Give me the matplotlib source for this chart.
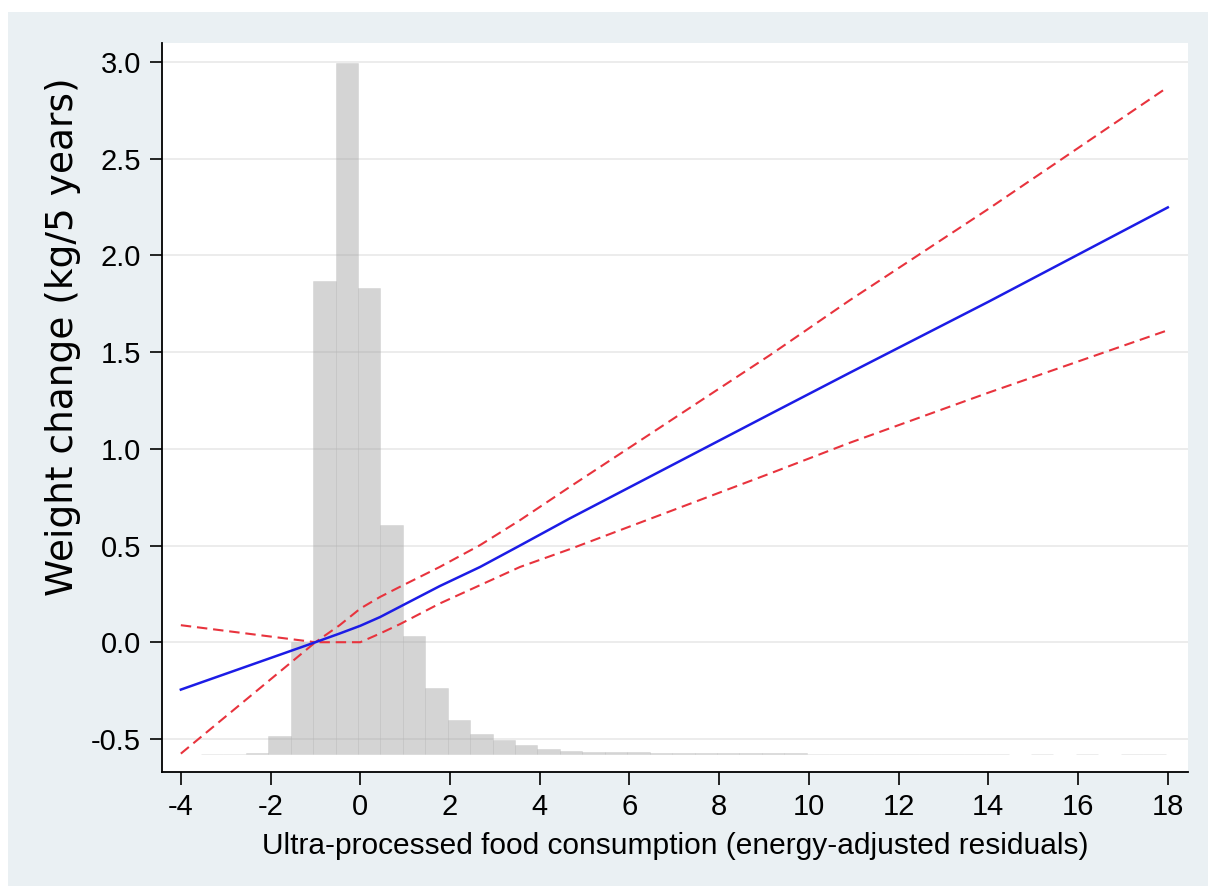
import matplotlib.pyplot as plt
import numpy as np
from matplotlib.patches import Rectangle

plt.rcParams['font.family'] = ['Liberation Sans', 'DejaVu Sans']

# fitted line and 95% CI
fit_x = [-4, -1, -0.46, 0, 0.44, 0.88, 1.77, 2.67, 3.56, 4.67, 9.13, 10.91, 14, 18]
fit_mid = [-0.245, 0, 0.045, 0.085, 0.13, 0.183, 0.29, 0.389, 0.5, 0.64, 1.179, 1.393, 1.76, 2.248]
ci_hi = [0.088, 0, 0.088, 0.174, 0.234, 0.286, 0.389, 0.502, 0.631, 0.803, 1.484, 1.768, 2.24, 2.87]
ci_lo = [-0.576, 0, 0, 0, 0.045, 0.093, 0.2, 0.295, 0.389, 0.481, 0.872, 1.031, 1.29, 1.613]

# histogram of exposure, drawn on the same y scale from a base line
hist_base = -0.58
hist_left = [-3.55, -3.05, -2.55, -2.05, -1.55, -1.05, -0.55, -0.05, 0.45, 0.95,
             1.45, 1.95, 2.45, 2.95, 3.45, 3.95, 4.45, 4.95, 5.45, 5.95,
             6.45, 6.95, 7.45, 7.95, 8.45, 8.95, 9.45, 9.95, 10.45, 10.95,
             11.45, 11.95, 12.45, 12.95, 13.45, 13.95, 14.95, 15.95, 16.95, 17.45]
hist_top = [-0.578, -0.577, -0.572, -0.486, 0.0, 1.868, 2.997, 1.829, 0.605, 0.033,
            -0.239, -0.403, -0.477, -0.507, -0.533, -0.552, -0.563, -0.567, -0.569, -0.570,
            -0.571, -0.572, -0.573, -0.574, -0.574, -0.575, -0.575, -0.576, -0.576, -0.577,
            -0.577, -0.577, -0.578, -0.578, -0.578, -0.578, -0.577, -0.577, -0.577, -0.577]

x_ticks = list(range(-4, 19, 2))
y_ticks = [-0.5, 0.0, 0.5, 1.0, 1.5, 2.0, 2.5, 3.0]

W, H = 1208, 886
fig = plt.figure(figsize=(W / 100, H / 100), dpi=100)
fig.patch.set_facecolor('white')
fig.patches.append(Rectangle((8 / W, 0), 1, 1 - 12 / H, transform=fig.transFigure,
                             facecolor='#eaf0f3', edgecolor='none', zorder=-10))

ax = fig.add_axes([162 / W, 1 - 772 / H, (1188 - 162) / W, (772 - 43) / H])
ax.set_facecolor('white')

for yt in y_ticks:
    ax.axhline(yt, color='#ebebeb', lw=1.3, zorder=0)

heights = np.array(hist_top) - hist_base
ax.bar(hist_left, heights, width=0.5, bottom=hist_base, align='edge',
       color='#9a9a9a', alpha=0.42, edgecolor='#b4b4b4', linewidth=0.4, zorder=1)

ax.plot(fit_x, ci_hi, color='#e8333d', lw=1.5, ls=(0, (5, 2.8)), zorder=3)
ax.plot(fit_x, ci_lo, color='#e8333d', lw=1.5, ls=(0, (5, 2.8)), zorder=3)
ax.plot(fit_x, fit_mid, color='#1c1ce6', lw=1.8, zorder=4)

ax.set_xlim(-4.42, 18.45)
ax.set_ylim(-0.671, 3.098)
ax.set_xticks(x_ticks)
ax.set_xticklabels([str(t) for t in x_ticks], fontsize=21)
ax.set_yticks(y_ticks)
ax.set_yticklabels(['%.1f' % t for t in y_ticks], fontsize=21)

for s in ['top', 'right']:
    ax.spines[s].set_visible(False)
for s in ['left', 'bottom']:
    ax.spines[s].set_linewidth(1.3)
    ax.spines[s].set_color('black')
ax.tick_params(axis='both', direction='out', length=9, width=1.2, pad=6)

fig.text(675 / W, 1 - 846 / H, 'Ultra-processed food consumption (energy-adjusted residuals)',
         ha='center', va='center', fontsize=21.5)
fig.text(63 / W, 1 - 337 / H, 'Weight change (kg/5 years)',
         ha='center', va='center', rotation=90, fontsize=27, family=['DejaVu Sans'])

fig.savefig('out.png', dpi=100, facecolor=fig.get_facecolor())
